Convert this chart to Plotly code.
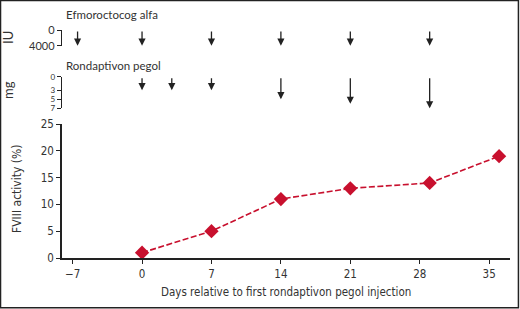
import plotly.graph_objects as go

# Data
days = [0, 7, 14, 21, 29, 36]
fviii_activity = [1, 5, 11, 13, 14, 19]

efmo_days = [-6.5, 0, 7, 14, 21, 29]
efmo_dose_iu = [4000, 4000, 4000, 4000, 4000, 4000]

rond_days = [0, 3, 7, 14, 21, 29]
rond_dose_mg = [3, 3, 3, 5, 6, 7]

x_ticks = [-7, 0, 7, 14, 21, 28, 35]
y_ticks = [0, 5, 10, 15, 20, 25]
iu_ticks = [0, 4000]
mg_ticks = [0, 3, 5, 7]

W, H = 520, 309
def px(x): return x / W
def py(y): return 1 - y / H

narrow = "Liberation Sans Narrow, DejaVu Sans Condensed, Arial Narrow, sans-serif"
round_font = "Lato, Noto Sans, sans-serif"
axcol = "#222222"
txtcol = "#333333"
red = "#c8102e"

fig = go.Figure()
fig.add_trace(go.Scatter(
    x=days, y=fviii_activity, mode="lines+markers",
    line=dict(color=red, width=1.6, dash="6px,2.5px"),
    marker=dict(symbol="diamond", size=11, color=red),
    showlegend=False, xaxis="x", yaxis="y", hoverinfo="skip",
))

annotations = []
for d, v in zip(efmo_days, efmo_dose_iu):
    annotations.append(dict(
        x=d, y=v, xref="x", yref="y2", ax=d, ay=0, axref="x", ayref="y2",
        showarrow=True, arrowhead=2, arrowsize=1.1, arrowwidth=1.3,
        arrowcolor=axcol, text="",
    ))
for d, v in zip(rond_days, rond_dose_mg):
    annotations.append(dict(
        x=d, y=v, xref="x", yref="y3", ax=d, ay=0, axref="x", ayref="y3",
        showarrow=True, arrowhead=2, arrowsize=1.1, arrowwidth=1.3,
        arrowcolor=axcol, text="",
    ))

annotations += [
    dict(text="Efmoroctocog alfa", x=px(64), y=py(15), xref="paper", yref="paper",
         xanchor="left", yanchor="middle", showarrow=False,
         font=dict(family=round_font, size=11.5, color=txtcol)),
    dict(text="Rondaptivon pegol", x=px(64), y=py(65), xref="paper", yref="paper",
         xanchor="left", yanchor="middle", showarrow=False,
         font=dict(family=round_font, size=11.5, color=txtcol)),
    dict(text="IU", x=px(8), y=py(38), xref="paper", yref="paper",
         xanchor="center", yanchor="middle", showarrow=False, textangle=-90,
         font=dict(family=round_font, size=13, color=txtcol)),
    dict(text="mg", x=px(8), y=py(90), xref="paper", yref="paper",
         xanchor="center", yanchor="middle", showarrow=False, textangle=-90,
         font=dict(family=round_font, size=13, color=txtcol)),
    dict(text="FVIII activity (%)", x=px(17), y=py(189), xref="paper", yref="paper",
         xanchor="center", yanchor="middle", showarrow=False, textangle=-90,
         font=dict(family=narrow, size=12, color=txtcol)),
    dict(text="Days relative to first rondaptivon pegol injection", x=px(286), y=py(292),
         xref="paper", yref="paper", xanchor="center", yanchor="middle", showarrow=False,
         font=dict(family=narrow, size=11.5, color=txtcol)),
]

common = dict(ticks="outside", ticklen=4, tickwidth=1.3, tickcolor=axcol,
              showline=True, linecolor=axcol, showgrid=False, zeroline=False,
              automargin=False)

fig.update_layout(
    template="none",
    width=W, height=H, autosize=False,
    margin=dict(l=0, r=0, t=0, b=0, pad=0),
    paper_bgcolor="white", plot_bgcolor="white",
    xaxis=dict(
        domain=[px(62), px(510)], range=[-8.07, 37.1], tickvals=x_ticks, linewidth=1.6,
        tickfont=dict(family=narrow, size=11.5, color=txtcol), anchor="y", **common,
    ),
    yaxis=dict(
        domain=[py(258), py(124)], range=[0, 25], tickvals=y_ticks, linewidth=1.6,
        tickfont=dict(family=narrow, size=11.5, color=txtcol), anchor="x", **common,
    ),
    yaxis2=dict(
        domain=[py(45.7), py(30)], range=[4000, 0], tickvals=iu_ticks, linewidth=1.4,
        tickfont=dict(family=round_font, size=11, color=txtcol), anchor="x", **common,
    ),
    yaxis3=dict(
        domain=[py(108.3), py(76.7)], range=[7, 0], tickvals=mg_ticks, linewidth=1.4,
        tickfont=dict(family=round_font, size=8, color=txtcol), anchor="x", **common,
    ),
    annotations=annotations,
    shapes=[dict(type="rect", xref="paper", yref="paper", x0=0.001, x1=0.997, y0=0.004, y1=0.998,
                 line=dict(color=axcol, width=1.5))],
)

fig.write_html(
    "out.html",
    config={"displayModeBar": False, "responsive": False},
    post_script="document.documentElement.style.margin='0';document.body.style.margin='0';document.body.style.overflow='hidden';",
)
